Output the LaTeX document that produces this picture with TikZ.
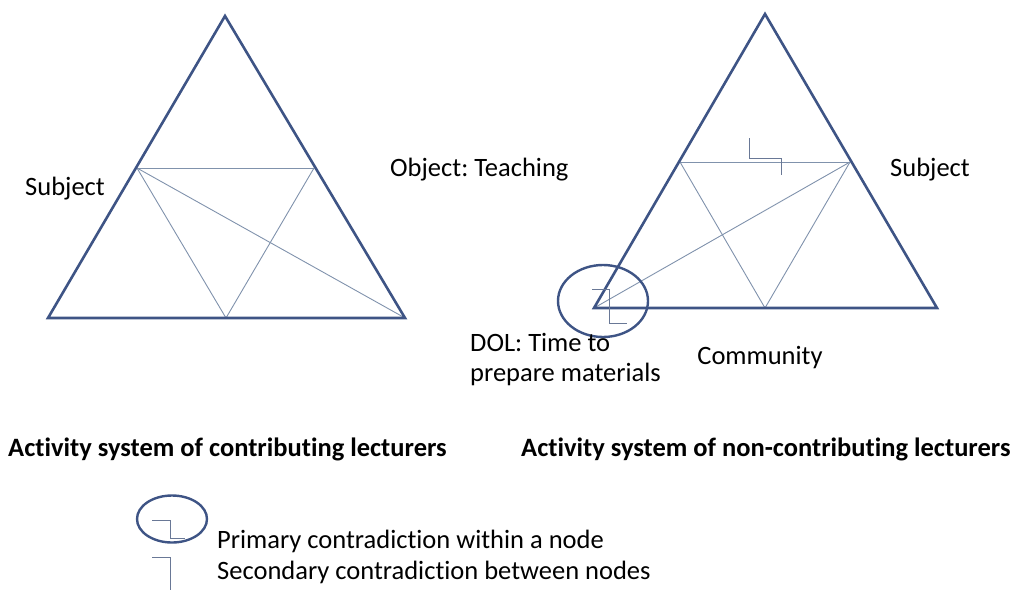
\documentclass[tikz,border=0pt]{standalone}
\usepackage{fontspec}
\setmainfont{Carlito}[Ligatures=NoCommon]
\usepackage{tikz}
\usetikzlibrary{shapes.geometric}
\frenchspacing
\tikzset{
  frame/.style    = {draw=tridark, line width=2.6pt},
  inner/.style    = {draw=trilight, line width=0.9pt},
  zigzag/.style   = {draw=zigcol, line width=1pt},
  ring/.style     = {draw=tridark, line width=2.4pt},
  label/.style    = {font=\fontsize{26.5}{30}\selectfont, inner sep=0pt, text=black},
  title/.style    = {label, font=\fontsize{26.5}{30}\selectfont\bfseries}
}
\definecolor{tridark}{RGB}{62,84,133}
\definecolor{trilight}{RGB}{128,146,172}
\definecolor{zigcol}{RGB}{105,120,150}

\begin{document}
\begin{tikzpicture}[x=1pt, y=-1pt]
  \useasboundingbox (0,0) rectangle (1012,590);

  % left activity system
  \coordinate (la) at (225,16);
  \coordinate (lb) at (48,318);
  \coordinate (lc) at (405,318);
  \coordinate (lm1) at (137,168);
  \coordinate (lm2) at (314,168);
  \coordinate (lm3) at (226,318);
  \draw [inner] (lm1) -- (lm2);
  \draw [inner] (lm1) -- (lm3) -- (lm2);
  \draw [inner] (lm1) -- (lc);
  \draw [frame, line join=miter] (la) -- (lb) -- (lc) -- cycle;

  % right activity system
  \coordinate (ra) at (765,14);
  \coordinate (rb) at (594,308);
  \coordinate (rc) at (937,308);
  \coordinate (rm1) at (680,162);
  \coordinate (rm2) at (850,162);
  \coordinate (rm3) at (765,308);
  \draw [inner] (rm1) -- (rm2);
  \draw [inner] (rm1) -- (rm3) -- (rm2);
  \draw [inner] (rb) -- (rm2);
  \draw [frame, line join=miter] (ra) -- (rb) -- (rc) -- cycle;

  \draw [zigzag] (749,138) -- (749,158) -- (781,158) -- (781,175);
  \draw [zigzag] (592,289) -- (609,289) -- (609,323) -- (627,323);
  \node [ring, ellipse, minimum width=90pt, minimum height=72pt] (dolring) at (603,301) {};

  \node [label, anchor=base west] (lsubj) at (25,195) {Subject};
  \node [label, anchor=base west] (obj) at (390,176) {Object: Teaching};
  \node [label, anchor=base west] (rsubj) at (890,176) {Subject};
  \node [label, anchor=base west] (dol1) at (470,351) {DOL: Time to};
  \node [label, anchor=base west] (dol2) at (470,381) {prepare materials};
  \node [label, anchor=base] (comm) at (760,364) {Community};

  \node [title, anchor=base west] (ltitle) at (8,456) {Activity system of contributing lecturers};
  \node [title, anchor=base west] (rtitle) at (521,456) {Activity system of non-contributing lecturers};

  % legend
  \node [ring, ellipse, minimum width=70pt, minimum height=47pt] (keyring) at (172,519) {};
  \draw [zigzag] (152,520) -- (170,520) -- (170,538) -- (185,538);
  \draw [zigzag] (152,557) -- (170,557) -- (170,590);
  \node [label, anchor=base west] (key1) at (217,548) {Primary contradiction within a node};
  \node [label, anchor=base west] (key2) at (217,579) {Secondary contradiction between nodes};
\end{tikzpicture}
\end{document}
